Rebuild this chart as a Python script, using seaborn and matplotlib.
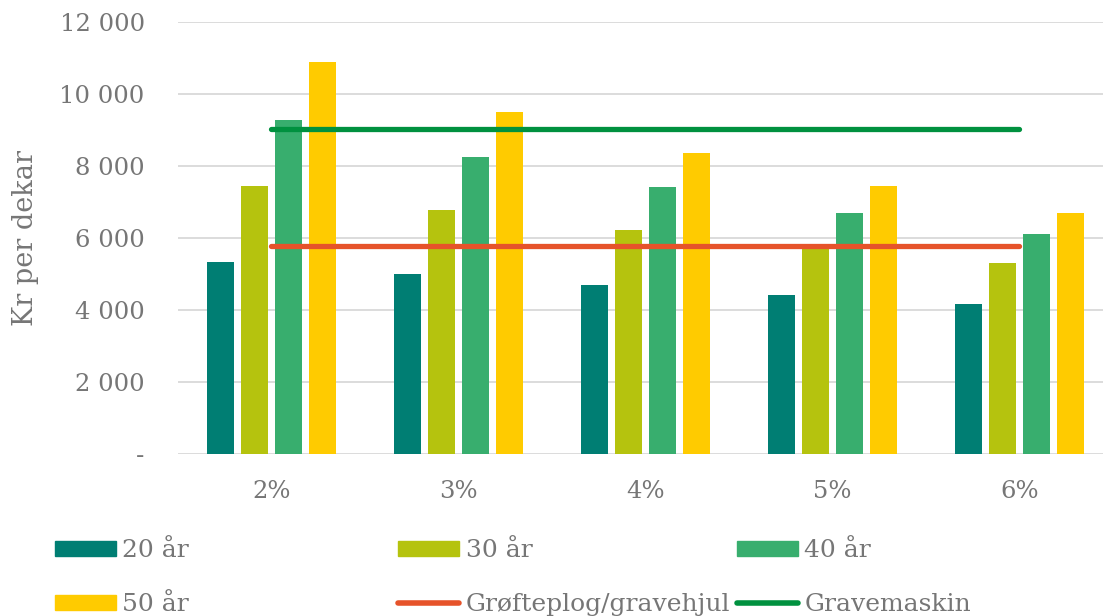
import matplotlib
matplotlib.use('Agg')
import matplotlib.pyplot as plt
from matplotlib.patches import Patch
from matplotlib.lines import Line2D
import seaborn as sns
import pandas as pd

sns.set_theme(style='white')
plt.rcParams['font.family'] = ['DejaVu Serif']

# --- data ---
rente = ['2%', '3%', '4%', '5%', '6%']
serier = ['20 år', '30 år', '40 år', '50 år']
v20 = [5330, 5000, 4690, 4410, 4160]
v30 = [7440, 6780, 6210, 5800, 5300]
v40 = [9280, 8260, 7410, 6700, 6100]
v50 = [10900, 9500, 8370, 7450, 6690]
grofteplog = 5780
gravemaskin = 9040
yticks = [0, 2000, 4000, 6000, 8000, 10000, 12000]

farger = ['#007E73', '#B5C30E', '#38AE6E', '#FFCB00']
rod, gronn = '#E6532A', '#00913F'
tekst = '#767676'

df = pd.DataFrame({
    'rente': rente * 4,
    'serie': sum([[s] * len(rente) for s in serier], []),
    'kr': v20 + v30 + v40 + v50,
})

fig = plt.figure(figsize=(11.03, 6.16), dpi=100)
ax = fig.add_axes([178 / 1103, 1 - 454 / 616, 925 / 1103, 432 / 616])

sns.barplot(data=df, x='rente', y='kr', hue='serie', order=rente, hue_order=serier,
            palette=farger, width=0.727, gap=0.2, linewidth=0, saturation=1,
            legend=False, ax=ax)

xs = range(len(rente))
ax.plot(xs, [grofteplog] * len(rente), color=rod, lw=3.8, solid_capstyle='round', zorder=4)
ax.plot(xs, [gravemaskin] * len(rente), color=gronn, lw=3.8, solid_capstyle='round', zorder=4)

ax.set_xlim(-0.5, 4.447)
ax.set_ylim(0, 12000)
ax.set_yticks(yticks)
ax.set_yticklabels([f'{v:,}'.replace(',', ' ') if v else '-' for v in yticks])
ax.yaxis.grid(True, color='#D9D9D9', lw=1.3)
ax.set_axisbelow(True)
for s in ax.spines.values():
    s.set_visible(False)
ax.tick_params(axis='both', length=0, labelsize=17.5, colors=tekst)
ax.tick_params(axis='y', pad=24)
ax.tick_params(axis='x', pad=19)
ax.set_xlabel('')
ax.set_ylabel('Kr per dekar', fontsize=19.5, color=tekst, labelpad=15)

# --- legende i tre kolonner ---
h = [Patch(color=c) for c in farger]
h += [Line2D([], [], color=rod, lw=4, solid_capstyle='round'),
      Line2D([], [], color=gronn, lw=4, solid_capstyle='round')]
labels = serier + ['Grøfteplog/gravehjul', 'Gravemaskin']
kolonner = [(0, 3, 55 / 1103), (1, 4, 398 / 1103), (2, 5, 737 / 1103)]
for a, b, x in kolonner:
    fig.legend([h[a], h[b]], [labels[a], labels[b]], loc='upper left',
               bbox_to_anchor=(x, 1 - 539 / 616), frameon=False, fontsize=18,
               labelcolor=tekst, handlelength=2.45, handleheight=0.56,
               handletextpad=0.25, labelspacing=1.25, borderpad=0, borderaxespad=0)

fig.savefig('out.png', dpi=100)
